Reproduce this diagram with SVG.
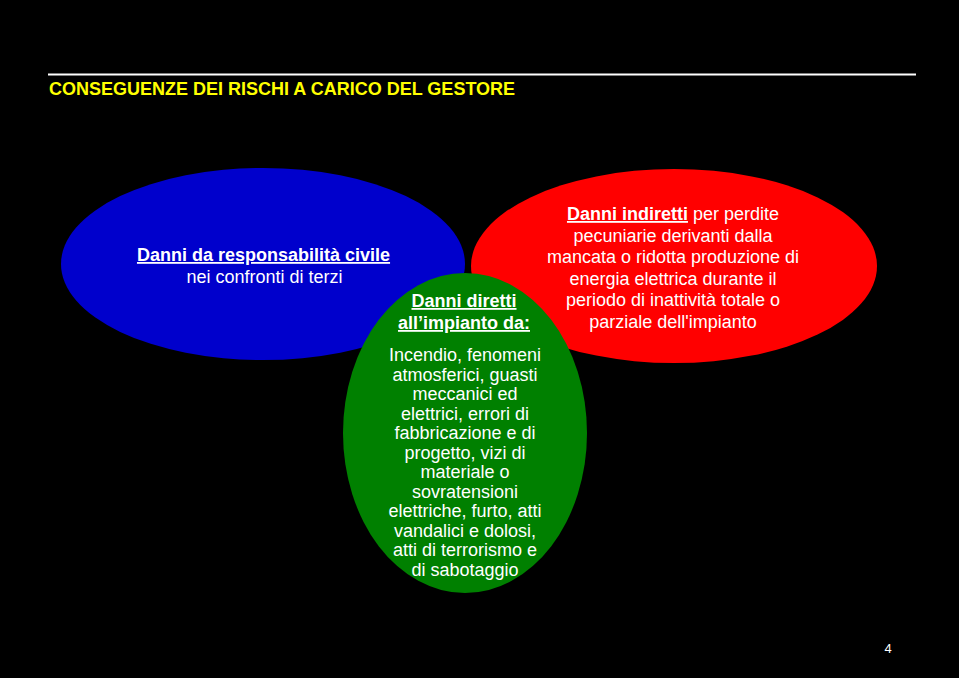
<svg xmlns="http://www.w3.org/2000/svg" width="959" height="678" viewBox="0 0 959 678">
<style>
text{font-family:"Liberation Sans",Arial,sans-serif;fill:#fff;text-anchor:middle;font-size:18px}
.h{font-weight:bold;text-decoration:underline}
.title{fill:#ffff00;font-weight:bold;text-anchor:start}
</style>
<rect width="959" height="678" fill="#000"/>
<line x1="48" y1="74.5" x2="916" y2="74.5" stroke="#fff" stroke-width="2"/>
<text class="title" x="49" y="95">CONSEGUENZE DEI RISCHI A CARICO DEL GESTORE</text>
<g id="blue">
<ellipse cx="263" cy="264" rx="202" ry="96" fill="#0000cc"/>
<text class="h" x="263.5" y="261">Danni da responsabilità civile</text>
<text x="264.5" y="283">nei confronti di terzi</text>
</g>
<g id="red">
<ellipse cx="674" cy="266" rx="203" ry="97" fill="#ff0000"/>
<text x="673" y="220"><tspan class="h">Danni indiretti</tspan> per perdite</text>
<text x="673" y="241.6">pecuniarie derivanti dalla</text>
<text x="673" y="263.2">mancata o ridotta produzione di</text>
<text x="673" y="284.8">energia elettrica durante il</text>
<text x="673" y="306.4">periodo di inattività totale o</text>
<text x="673" y="328">parziale dell'impianto</text>
</g>
<g id="green">
<ellipse cx="465" cy="433" rx="122" ry="160" fill="#008000"/>
<text class="h" x="464" y="307">Danni diretti</text>
<text class="h" x="464" y="329">all’impianto da:</text>
<text x="465" y="361">Incendio, fenomeni</text>
<text x="465" y="380.5">atmosferici, guasti</text>
<text x="465" y="400">meccanici ed</text>
<text x="465" y="419.5">elettrici, errori di</text>
<text x="465" y="439">fabbricazione e di</text>
<text x="465" y="458.5">progetto, vizi di</text>
<text x="465" y="478">materiale o</text>
<text x="465" y="497.5">sovratensioni</text>
<text x="465" y="517">elettriche, furto, atti</text>
<text x="465" y="536.5">vandalici e dolosi,</text>
<text x="465" y="556">atti di terrorismo e</text>
<text x="465" y="575.5">di sabotaggio</text>
</g>
<g id="connectors"></g>
<text x="888" y="653" style="font-size:13px">4</text>
</svg>
